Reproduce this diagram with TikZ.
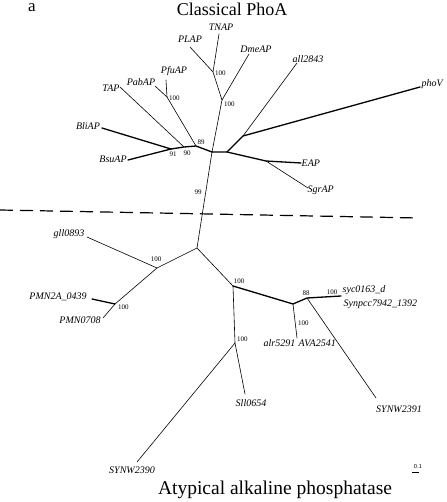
\documentclass[tikz,border=0pt]{standalone}
\usepackage{fontspec}
\setmainfont{Liberation Serif}
\begin{document}
\begin{tikzpicture}[x=1pt,y=-1pt,
  leaf/.style={font=\fontsize{10}{12}\selectfont\itshape, inner sep=0.5pt},
  boot/.style={font=\fontsize{7}{8}\selectfont, inner sep=0pt},
  thinb/.style={line width=0.6pt, line cap=round, line join=round},
  thickb/.style={line width=1.3pt, line cap=round, line join=round},
  title/.style={font=\fontsize{18}{20}\selectfont, inner sep=0pt}]
\useasboundingbox (0,0) rectangle (446,502);

% titles
\node[title] (ttop) at (232,9) {Classical PhoA};
\node[title, font=\fontsize{19.5}{21}\selectfont] (tbot) at (275,490) {Atypical alkaline phosphatase};
\node[font=\fontsize{17}{18}\selectfont, inner sep=0pt] (lbla) at (32,8) {a};

% internal points (upper)
\coordinate (C1) at (212,152);
\coordinate (N2) at (227,152);
\coordinate (Nall) at (243,136);
\coordinate (Neap) at (266,161);
\coordinate (Ntn) at (213,72);
\coordinate (Ndm) at (222,100);
\coordinate (N89) at (196,146);
\coordinate (N90) at (184,147);
\coordinate (N91) at (171,149);
\coordinate (Npf) at (167,97);
% tips (upper)
\coordinate (tTNAP) at (219,34);
\coordinate (tPLAP) at (190,47);
\coordinate (tDme) at (249,54);
\coordinate (tall) at (297,63);
\coordinate (tpho) at (420,87);
\coordinate (tEAP) at (301,163);
\coordinate (tSgr) at (308,188);
\coordinate (tPfu) at (166,80);
\coordinate (tPab) at (155,86);
\coordinate (tTAP) at (120,87);
\coordinate (tBli) at (102,128);
\coordinate (tBsu) at (128,160);

% internal points (lower)
\coordinate (C2) at (197,248);
\coordinate (Ngll) at (157,268);
\coordinate (Npmn) at (115,304);
\coordinate (Na) at (233,286);
\coordinate (Nb) at (293,304);
\coordinate (N88) at (307,298);
\coordinate (Nsll) at (235,343);
% tips (lower)
\coordinate (tgll) at (87,237);
\coordinate (tP2A) at (92,299);
\coordinate (tP07) at (103,318);
\coordinate (tsyc) at (341,296);
\coordinate (tS91) at (376,398);
\coordinate (talr) at (297,338);
\coordinate (tSll) at (245,394);
\coordinate (tS90) at (137,462);

% leaf labels
\node[leaf] (lTNAP) at (221,27) {TNAP};
\node[leaf] (lPLAP) at (190,39) {PLAP};
\node[leaf] (lDme) at (256,49) {DmeAP};
\node[leaf] (lall) at (308,59) {all2843};
\node[leaf, anchor=west] (lpho) at (421,84) {phoV};
\node[leaf, anchor=west] (lEAP) at (301,163) {EAP};
\node[leaf, anchor=west] (lSgr) at (307,190) {SgrAP};
\node[leaf] (lPfu) at (174,71) {PfuAP};
\node[leaf] (lPab) at (141,82) {PabAP};
\node[leaf] (lTAP) at (111,88) {TAP};
\node[leaf] (lBli) at (88,126) {BliAP};
\node[leaf] (lBsu) at (113,159) {BsuAP};
\node[leaf] (lgll) at (69,234) {gll0893};
\node[leaf] (lP2A) at (58,297) {PMN2A\_0439};
\node[leaf] (lP07) at (80,320) {PMN0708};
\node[leaf, anchor=west] (lsyc) at (342,290) {syc0163\_d};
\node[leaf, anchor=west] (lSyn) at (343,304) {Synpcc7942\_1392};
\node[leaf, anchor=east] (lalr) at (296,343) {alr5291};
\node[leaf, anchor=west] (lAVA) at (298,343) {AVA2541};
\node[leaf] (lS91) at (399,409) {SYNW2391};
\node[leaf] (lSll) at (251,403) {Sll0654};
\node[leaf] (lS90) at (132,470) {SYNW2390};

% bootstrap values
\node[boot, anchor=west] (b1) at (215,73) {100};
\node[boot, anchor=west] (b2) at (224,104) {100};
\node[boot, anchor=west] (b3) at (169,98) {100};
\node[boot] (b4) at (201,142) {89};
\node[boot] (b5) at (187,153) {90};
\node[boot] (b6) at (173,154) {91};
\node[boot] (b7) at (198,192) {99};
\node[boot] (b8) at (156,259) {100};
\node[boot, anchor=west] (b9) at (118,307) {100};
\node[boot] (b10) at (239,281) {100};
\node[boot] (b11) at (306,293) {88};
\node[boot] (b12) at (332,292) {100};
\node[boot, anchor=west] (b13) at (298,323) {100};
\node[boot, anchor=west] (b14) at (237,339) {100};

% upper branches
\draw[thinb] (Ndm) -- (C1) -- (C2);
\draw[thinb] (Ndm) -- (Ntn) -- (tTNAP);
\draw[thinb] (Ntn) -- (tPLAP);
\draw[thinb] (Ndm) -- (tDme);
\draw[thickb] (C1) -- (N2) -- (Nall);
\draw[thinb] (Nall) -- (tall);
\draw[thickb] (Nall) -- (tpho);
\draw[thickb] (N2) -- (Neap) -- (tEAP);
\draw[thinb] (Neap) -- (tSgr);
\draw[thickb] (C1) -- (N89) -- (N90) -- (N91);
\draw[thinb] (N89) -- (Npf) -- (tPfu);
\draw[thinb] (Npf) -- (tPab);
\draw[thinb] (N90) -- (tTAP);
\draw[thickb] (N91) -- (tBli);
\draw[thickb] (N91) -- (tBsu);

% lower branches
\draw[thinb] (C2) -- (Ngll) -- (tgll);
\draw[thinb] (Ngll) -- (Npmn) -- (tP07);
\draw[thickb] (Npmn) -- (tP2A);
\draw[thinb] (C2) -- (Na);
\draw[thickb] (Na) -- (Nb) -- (N88) -- (tsyc);
\draw[thinb] (N88) -- (tS91);
\draw[thinb] (Nb) -- (talr);
\draw[thinb] (Na) -- (Nsll) -- (tSll);
\draw[thinb] (Nsll) -- (tS90);

% dashed separator
\coordinate (dL) at (0,210);
\coordinate (dR) at (419,218);
\draw[line width=1.2pt, dash pattern=on 13pt off 7pt] (dL) -- (dR);

% scale bar
\coordinate (sb1) at (412,472);
\coordinate (sb2) at (419,472);
\draw[line width=0.8pt] (sb1) -- (sb2);
\node[font=\fontsize{6}{7}\selectfont\sffamily, inner sep=0pt] (sbl) at (418,467) {0.1};
\end{tikzpicture}
\end{document}
